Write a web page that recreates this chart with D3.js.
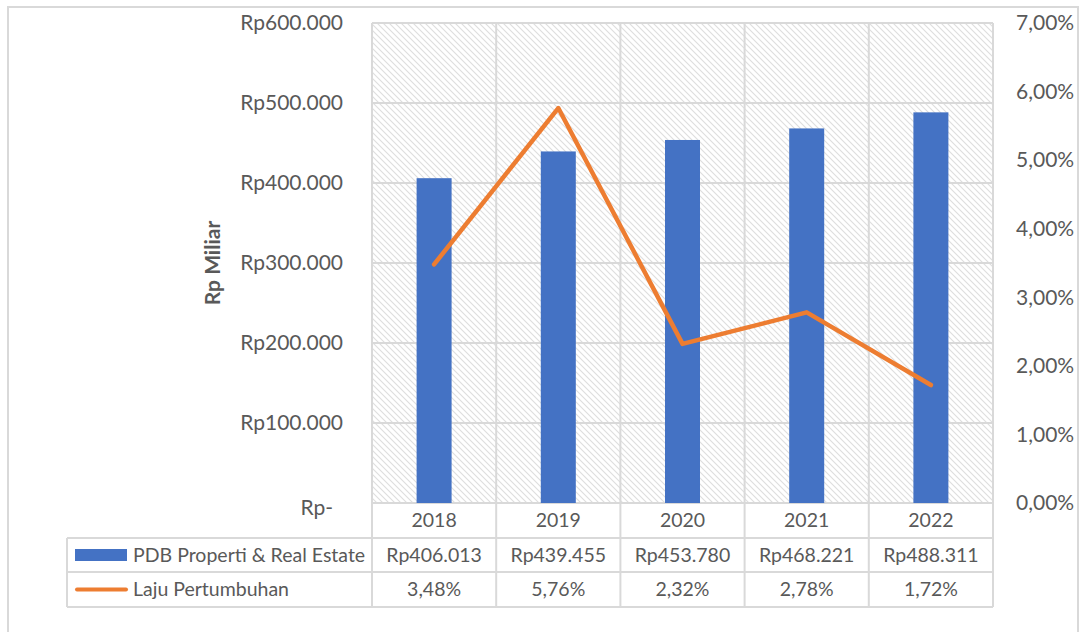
<!DOCTYPE html>
<html>
<head>
<meta charset="utf-8">
<script src="https://cdn.jsdelivr.net/npm/d3@7"></script>
<style>
  body { margin: 0; background: #fff; }
  text { font-family: Lato, "Open Sans", sans-serif; fill: #595959; }
</style>
</head>
<body>
<svg id="chart" width="1082" height="632"></svg>
<script>
// data
const years = ["2018", "2019", "2020", "2021", "2022"];
const pdb = [406013, 439455, 453780, 468221, 488311];
const growth = [0.0348, 0.0576, 0.0232, 0.0278, 0.0172];
const leftTicks = [0, 100000, 200000, 300000, 400000, 500000, 600000];
const rightTicks = [0, 0.01, 0.02, 0.03, 0.04, 0.05, 0.06, 0.07];
const seriesNames = ["PDB Properti & Real Estate", "Laju Pertumbuhan"];

const barColor = "#4472C4", lineColor = "#ED7D31", gridColor = "#d9d9d9";

// indonesian number format
const id = d3.formatLocale({ decimal: ",", thousands: ".", grouping: [3], currency: ["Rp", ""] });
const fmtRp = v => v === 0 ? "Rp-" : "Rp" + id.format(",")(v);
const fmtPct = id.format(".2%");

// plot area
const plot = { left: 372, right: 993, top: 23, bottom: 503 };
const tableLeft = 67;
const rowLines = [503, 538, 572, 607];

const svg = d3.select("#chart");

// outer frame
svg.append("rect")
    .attr("x", 8).attr("y", 7)
    .attr("width", 1070).attr("height", 660)
    .attr("fill", "none")
    .attr("stroke", gridColor)
    .attr("stroke-width", 2);

// hatch pattern for the plot background
const defs = svg.append("defs");
const pat = defs.append("pattern")
    .attr("id", "hatch")
    .attr("patternUnits", "userSpaceOnUse")
    .attr("width", 6).attr("height", 6);
pat.append("rect").attr("width", 6).attr("height", 6).attr("fill", "#fff");
pat.append("path")
    .attr("d", "M0,0L6,6M-1,5L1,7M5,-1L7,1")
    .attr("stroke", "#dedede")
    .attr("stroke-width", 1.1);

const x = d3.scaleBand()
    .domain(years)
    .range([plot.left, plot.right])
    .padding(0);

const yLeft = d3.scaleLinear()
    .domain([0, 600000])
    .range([plot.bottom, plot.top]);

const yRight = d3.scaleLinear()
    .domain([0, 0.07])
    .range([plot.bottom, plot.top]);

svg.append("rect")
    .attr("x", plot.left).attr("y", plot.top)
    .attr("width", plot.right - plot.left)
    .attr("height", plot.bottom - plot.top)
    .attr("fill", "url(#hatch)");

// horizontal gridlines
svg.append("g")
    .selectAll("line")
    .data(leftTicks)
    .join("line")
    .attr("x1", plot.left).attr("x2", plot.right)
    .attr("y1", d => yLeft(d)).attr("y2", d => yLeft(d))
    .attr("stroke", gridColor)
    .attr("stroke-width", 2);

// vertical category lines through plot and the year row
const bounds = years.map(d => x(d)).concat([plot.right]);
svg.append("g")
    .selectAll("line")
    .data(bounds)
    .join("line")
    .attr("x1", d => d).attr("x2", d => d)
    .attr("y1", plot.top).attr("y2", rowLines[3])
    .attr("stroke", gridColor)
    .attr("stroke-width", 2);

// data table lines
svg.append("g")
    .selectAll("line")
    .data(rowLines.slice(1))
    .join("line")
    .attr("x1", tableLeft).attr("x2", plot.right)
    .attr("y1", d => d).attr("y2", d => d)
    .attr("stroke", gridColor)
    .attr("stroke-width", 2);
svg.append("line")
    .attr("x1", tableLeft).attr("x2", tableLeft)
    .attr("y1", rowLines[1]).attr("y2", rowLines[3])
    .attr("stroke", gridColor)
    .attr("stroke-width", 2);

// bars
const barW = 35;
svg.append("g")
    .selectAll("rect")
    .data(years)
    .join("rect")
    .attr("x", d => x(d) + x.bandwidth() / 2 - barW / 2)
    .attr("y", (d, i) => yLeft(pdb[i]))
    .attr("width", barW)
    .attr("height", (d, i) => yLeft(0) - yLeft(pdb[i]))
    .attr("fill", barColor);

// growth line
const line = d3.line()
    .x((d, i) => x(years[i]) + x.bandwidth() / 2)
    .y(d => yRight(d));
svg.append("path")
    .datum(growth)
    .attr("d", line)
    .attr("fill", "none")
    .attr("stroke", lineColor)
    .attr("stroke-width", 4.5)
    .attr("stroke-linejoin", "round")
    .attr("stroke-linecap", "round");

// left axis
const leftAxis = svg.append("g")
    .attr("transform", `translate(${plot.left},0)`)
    .call(d3.axisLeft(yLeft).tickValues(leftTicks).tickFormat(fmtRp).tickSize(0).tickPadding(29));
leftAxis.select(".domain").remove();
leftAxis.selectAll("text")
    .style("font-size", "21px")
    .attr("fill", "#595959")
    .attr("dx", d => d === 0 ? -10 : 0)
    .attr("dy", d => d === 0 ? "0.55em" : "0.32em");

// right axis
const rightAxis = svg.append("g")
    .attr("transform", `translate(${plot.right},0)`)
    .call(d3.axisRight(yRight).tickValues(rightTicks).tickFormat(fmtPct).tickSize(0).tickPadding(23));
rightAxis.select(".domain").remove();
rightAxis.selectAll("text")
    .style("font-size", "21px")
    .attr("fill", "#595959");

// axis title
svg.append("text")
    .attr("transform", `translate(220,${(plot.top + plot.bottom) / 2}) rotate(-90)`)
    .attr("text-anchor", "middle")
    .style("font-size", "21px")
    .style("font-weight", "bold")
    .text("Rp Miliar");

// table text
const cx = d => x(d) + x.bandwidth() / 2;
const rowMid = i => (rowLines[i] + rowLines[i + 1]) / 2;

svg.append("g").selectAll("text")
    .data(years).join("text")
    .attr("x", cx).attr("y", rowMid(0))
    .attr("dy", "0.35em")
    .attr("text-anchor", "middle")
    .style("font-size", "19.5px")
    .text(d => d);

svg.append("g").selectAll("text")
    .data(years).join("text")
    .attr("x", cx).attr("y", rowMid(1))
    .attr("dy", "0.35em")
    .attr("text-anchor", "middle")
    .style("font-size", "19.5px")
    .text((d, i) => fmtRp(pdb[i]));

svg.append("g").selectAll("text")
    .data(years).join("text")
    .attr("x", cx).attr("y", rowMid(2))
    .attr("dy", "0.35em")
    .attr("text-anchor", "middle")
    .style("font-size", "19.5px")
    .text((d, i) => fmtPct(growth[i]));

// legend keys in the table
svg.append("rect")
    .attr("x", 75).attr("y", rowMid(1) - 6)
    .attr("width", 52).attr("height", 12)
    .attr("fill", barColor);
svg.append("line")
    .attr("x1", 77).attr("x2", 126)
    .attr("y1", rowMid(2)).attr("y2", rowMid(2))
    .attr("stroke", lineColor)
    .attr("stroke-width", 4)
    .attr("stroke-linecap", "round");

svg.append("g").selectAll("text")
    .data(seriesNames).join("text")
    .attr("x", 133)
    .attr("y", (d, i) => rowMid(i + 1))
    .attr("dy", "0.35em")
    .style("font-size", "19.5px")
    .text(d => d);
</script>
</body>
</html>
